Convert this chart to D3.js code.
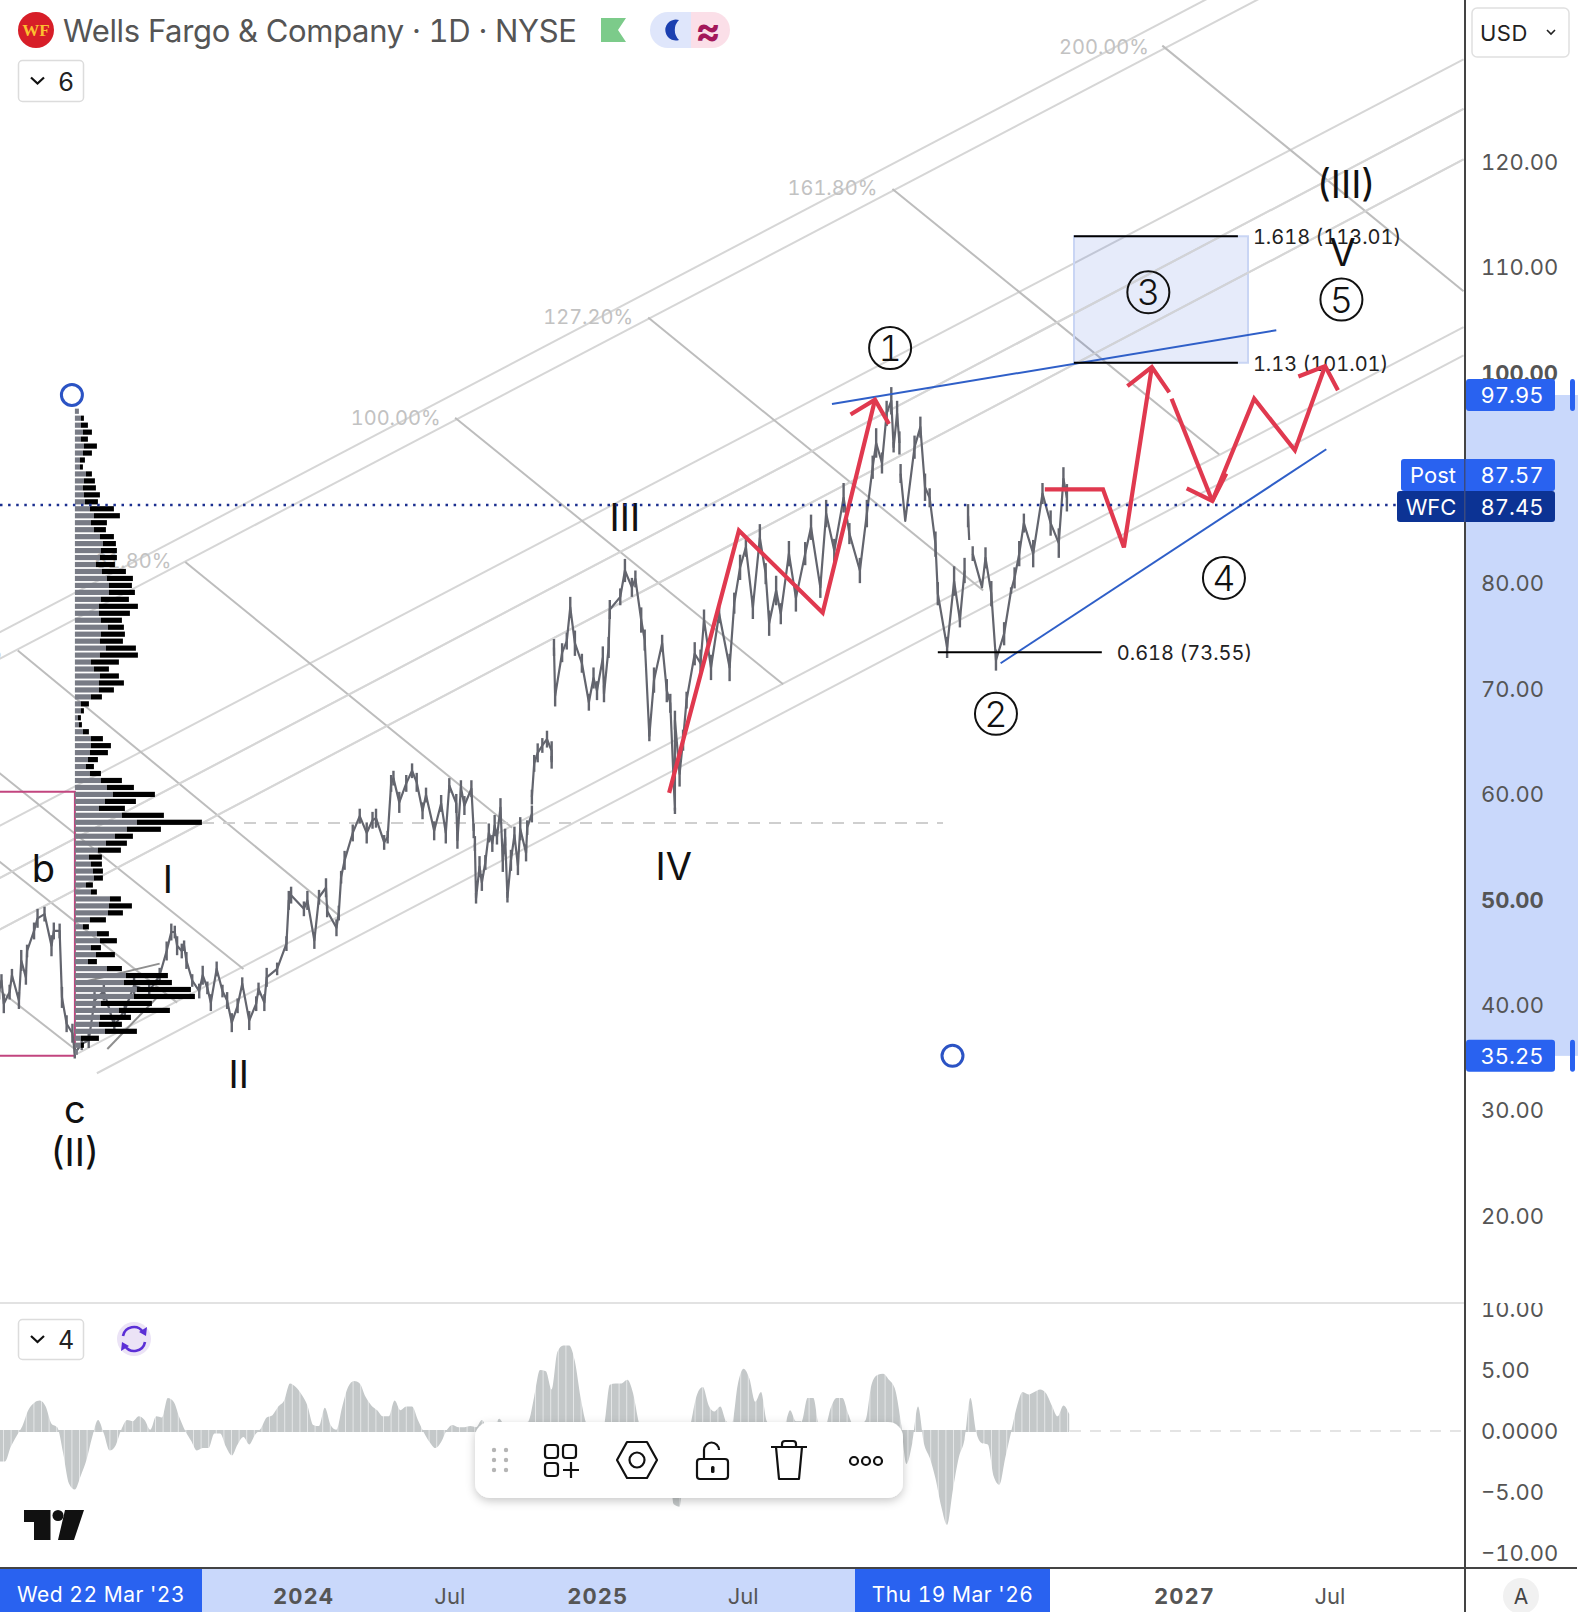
<!DOCTYPE html>
<html><head><meta charset="utf-8"><style>html,body{margin:0;padding:0;background:#fff}svg{display:block;font-family:Inter,"Noto Sans",sans-serif;font-feature-settings:"tnum"}</style>
<script src="https://cdn.jsdelivr.net/npm/d3@7/dist/d3.min.js"></script></head><body><svg id="c" width="1578" height="1612"></svg>
<script>
// ---------- DATA ----------
const priceTicks=[120,110,100,80,70,60,50,40,30,20];
const boldPriceTicks=[100,50];
const oscTicks=[10,5,0,-5,-10];
const timeTicks=[["2024-01-01","2024",1],["2024-07-01","Jul",0],["2025-01-01","2025",1],["2025-07-01","Jul",0],["2027-01-01","2027",1],["2027-07-01","Jul",0]];
const sessions=[0,2,4,9,11,17,19,23,24,30,33,39,45,47,52,54,58,63,65,71,77,82,90,99,108,116,129,138,144,148,151,153,157,159,161,166,172,175,179,182,187,192,196,200,205,209,215,221,223,228,230,239,247,249,251,262,265,271,275,281,282,290,292,294,297,304,310,316,321,324,331,334,337,339,344,350,355,359,364,367,374,380,384,387,393,394,397,400,406,408,null,409,410,413,415,418,421,424,426,428,431,433,435,437,440,443,446,448,453,454,458,null,458,460,463,467,471,475,475,null,477,478,484,488,491,495,501,507,511,514,519,520,524,525,534,538,544,547,552,555,559,563,570,574,577,581,581,585,588,591,598,603,606,612,619,628,632,637,642,648,654,659,662,668,672,679,685,693,698,706,711,718,726,731,740,746,751,754,759,763,767,769,772,774,null,775,779,787,792,796,800,805,807,815,821,826,830,null,833,834,null,837,845,848,853,857,864,870,873,877,881,889,897,904,911,915,918];
const prices=[41.4,42.4,40.2,41.3,42.9,40.5,44.3,42.7,45.2,47.1,48.3,48.7,45.7,47.1,47.1,40.8,38.3,37.4,35.5,36.4,36.7,40.5,41.4,38.1,39.6,41.9,41.4,42.9,45.2,47.0,47.0,45.7,45.2,45.7,44.3,42.4,41.4,42.9,41.7,40.3,43.5,41.4,40.5,38.4,40.0,42.1,38.6,40.2,41.6,40.3,42.7,43.5,45.9,50.0,50.5,49.2,50.0,46.2,50.3,51.2,49.0,47.4,48.8,52.2,53.8,56.4,58.0,56.4,57.6,57.8,55.5,56.0,61.1,61.6,59.3,61.1,62.3,61.2,58.5,60.0,56.6,59.2,56.4,60.9,59.2,55.7,60.7,59.0,60.6,56.6,null,55.4,50.2,53.2,51.7,53.6,56.4,55.4,57.1,56.0,58.8,53.8,56.0,50.3,53.8,56.2,53.3,56.8,54.5,56.9,58.2,null,59.8,63.0,64.0,64.7,65.3,64.2,63.1,null,74.0,69.4,73.5,74.6,77.8,74.4,72.5,68.8,71.1,69.9,73.0,69.6,74.0,77.6,78.8,81.3,79.7,80.5,76.6,74.7,65.6,70.9,74.4,69.9,68.7,58.5,67.1,62.0,65.2,69.0,73.4,72.5,76.6,72.1,77.2,72.1,78.2,81.6,83.5,77.8,84.4,81.0,76.3,79.4,77.2,82.9,78.7,82.9,85.4,79.7,86.7,83.2,88.2,84.8,81.3,86.7,91.1,93.4,91.5,96.2,97.4,93.0,96.2,93.4,null,90.5,86.0,93.0,94.9,89.2,88.2,83.8,79.1,74.0,80.3,76.6,81.3,null,86.5,84.2,null,82.9,79.7,82.5,79.1,72.8,75.3,79.4,80.6,82.9,85.8,82.9,88.6,85.8,83.9,90.0,88.2];
// day-range half-width seen around each reading, in dollars
const dayRange=[.8,.6,.9,.7,.6,.8,1,.7,.6,.8,.9,.7,1,.8,.7,1,.8,.9,.5,.6,.7,.8,.9,.6,.7,.8,.6,.7,.9,.8,.6,.9,.7,.5,.8,.6,.7,.9,.6,.8,.7,.6,.8,.9,.7,.6,.9,.7,.6,.8,.9,.6,.7,.9,.8,.7,.9,.8,.7,.9,.6,.8,.7,.6,.9,.8,.7,1,.8,.9,.7,.6,.8,.7,1,.8,.7,.9,.8,.7,.9,.8,1,.7,.9,.8,.7,.9,.8,.7,0,.7,.5,1,.8,.7,.9,.8,1,.7,.9,1.1,.8,.5,1,.8,.9,1.1,.8,.7,.8,0,.7,.8,.9,.7,.8,.9,.6,0,.8,1,.9,.8,1,1.2,.9,.8,1,.9,1.1,.8,1,.9,.8,1.1,.9,.8,1.2,1,.5,1.2,.8,1.1,.9,.3,.9,1.2,1,.8,1.1,1.3,1,1.2,.9,1.3,1,1.2,.9,1.1,1.3,1,1.2,1.4,1,1.2,1.3,1.1,1.2,1,1.3,1.1,1.4,1,1.2,1.3,1.1,1.4,1,1.2,1.3,.5,1.2,1.1,1.4,.9,0,1.1,1,1.3,.9,1.2,1.1,1,1.4,.7,1.2,.9,1.1,0,.8,.7,0,1,1.2,1,1.1,.3,1,1.2,.9,1.3,1,1.2,1.4,1.1,1.3,.5,.7];
// oscillator: one value per 5 sessions
const oscillator=[-2.5,-2.5,-1.3,-0.4,0.4,1.7,2.3,2.5,2.0,0.6,0.3,-1.8,-4.3,-4.8,-3.7,-2.4,-0.5,0.9,-0.2,-1.6,-1.2,0.1,0.9,0.8,1.2,0.9,0.1,1.2,1.1,2.7,2.4,1.1,0,-0.8,-1.6,-1.4,-1.4,-0.2,-0.2,-1.3,-2.0,-1.1,-0.5,-1.1,-0.3,0.2,1.1,1.3,2.0,2.5,3.9,3.6,3.0,2.1,0.5,0.4,1.9,0.5,0.1,2.0,3.6,4.1,3.9,2.8,2.1,1.7,1.2,1.2,2.5,1.7,2.0,2.0,0.9,-0.1,-0.9,-1.4,-0.9,0.1,0.5,0.3,0.3,0.4,0.3,0.9,0.2,0.3,1.0,0.4,0.6,0.5,0.6,0.8,2.8,5.0,4.9,3.4,6.5,7.0,7.0,5.7,2.7,0.6,0.2,0.1,0.5,3.8,3.9,3.9,4.2,3.1,0.7,-0.5,-1,-1.5,-2,-3,-6,-6.2,-1.5,0.8,3.0,3.6,2.1,1.6,2.0,0.8,0.6,3.8,5.1,4.3,2.4,3.2,0.8,0.4,0.4,0.5,1.7,0.8,0.8,2.7,2.7,0.4,0.3,1.9,2.7,2.7,1.4,0.4,0.5,0.9,3.8,4.6,4.7,4.2,3.5,0.9,-2.7,-1.0,2.0,-1.0,-2.2,-3.9,-6.2,-7.7,-4.8,-2.2,-0.7,2.7,-0.1,-1.0,-1.1,-3.7,-4.4,-2.2,-0.1,2.0,3.2,3.0,3.2,3.4,3.1,2.1,1.2,2.1,1.4];
// volume profile rows, top to bottom
const vpUp=[12,18,18,24,18,27,24,15,15,33,27,24,27,30,45,57,48,57,75,84,78,75,63,81,96,102,102,78,72,72,78,99,78,75,93,75,48,57,75,72,72,48,18,18,9,12,24,48,48,45,39,33,45,78,96,114,90,72,141,186,156,120,93,69,42,48,54,57,33,48,105,102,99,45,24,66,75,48,63,39,96,153,147,186,177,78,132,75,72,90,18,18,9];
const vpDown=[0,9,21,27,21,39,27,15,9,18,33,39,48,39,72,78,48,36,42,39,48,51,57,72,78,69,78,84,117,93,63,48,72,69,90,114,84,45,57,75,45,33,24,9,9,9,18,36,60,54,30,24,33,63,81,126,93,78,126,195,102,54,63,69,39,33,30,27,21,18,33,69,45,48,18,36,51,30,57,27,45,126,144,162,183,153,153,93,69,96,54,9,0];
const vpTopPrice=96.4, vpRowStep=0.661;
// drawings: [session0,price0,session1,price1]
const channelRising=[[0,75.4,1259,148.3],[0,72.9,1259,145.7],[0,57.05,1259,129.8],[0,52.1,1259,125.1],[0,47.2,1259,120.3],[66,35.4,1259,104.4],[84,33.6,1259,101.7]];
const channelCross=[[1000,131.1,1259,107.8],[768,117.5,1049,92.3],[558,105.3,846,79.4],[392,95.8,674,70.5],[160,82.1,441,56.9],[16,73.7,293,48.5],[0,62.1,210,43.5],[0,53.7,153,40.3],[0,41.5,66,35.8]];
const darkShort=[[66,42.1,138,44.0],[93,35.9,135,40.7]];
const fibLabels=[["200.00%",988.5,131],["161.80%",755,117.6],["127.20%",545,105.4],["100.00%",379.5,95.8],["61.80%",148,82.2],["38.20%",3,73.7]];
const redPaths=[[[576,60.2],[636,85.1],[708,77.3],[753,97.5]],[[732,96.1],[753,97.5],[765,95.2]],[[899,89.0],[949,89.0],[967,83.5],[991,100.6]],[[970,98.8],[991,100.6],[1006,98.2]],[[1008,97.6],[1043,87.9]],[[1021,89.1],[1043,87.9],[1055,90.5]],[[1043,87.9],[1079,97.6],[1114,92.7],[1140,100.7]],[[1117,99.7],[1140,100.7],[1151,98.4]]];
const blueLines=[[716,97.1,1098,104.1],[861,72.5,1141,92.8]];
const levels=[[807,948,73.55,"0.618 (73.55)"],[924,1065,101.01,"1.13 (101.01)"],[924,1065,113.01,"1.618 (113.01)"]];
const waveCircled=[["1",766,102.4],["2",857,67.7],["3",988,107.7],["4",1053,80.6],["5",1154,107.0]];
const waveText=[["III",538,86.3],["IV",580,53.2],["II",206,33.5],["I",145,52.0],["b",38,53.0],["c",65,30.2],["(II)",65,26.1],["(III)",1158,117.9],["V",1155,111.5]];
const rangeHigh=97.95, rangeLow=35.25, lastPrice=87.45, postPrice=87.57, pocPrice=57.35, boxHigh=60.3;
const rangeStart="2023-03-22", rangeEnd="2026-03-19";

// ---------- SCALES ----------
const svg=d3.select("#c");
const paneR=1465;
const parse=d3.utcParse("%Y-%m-%d");
const x=d3.scaleUtc().domain([parse("2024-01-01"),parse("2027-01-01")]).range([303,1184]);
const origin=parse("2022-12-19").getTime();
const dayMs=864e5, sessionDays=1.447;
const sx=b=>x(new Date(origin+b*sessionDays*dayMs));
const y=d3.scaleLinear().domain([120,20]).range([162.6,1216.6]);
const yo=d3.scaleLinear().domain([0,5]).range([1431,1370]);
const vol=d3.scaleLinear().domain([0,100]).range([0,33.33]);

const defs=svg.append("defs");
defs.append("clipPath").attr("id","main").append("rect").attr("width",paneR).attr("height",1303);
defs.append("clipPath").attr("id","low").append("rect").attr("y",1304).attr("width",paneR).attr("height",264);
const f=defs.append("filter").attr("id","sh").attr("x","-10%").attr("y","-20%").attr("width","120%").attr("height","150%");
f.append("feDropShadow").attr("dx",0).attr("dy",3).attr("stdDeviation",5).attr("flood-color","#000").attr("flood-opacity",0.22);

const main=svg.append("g").attr("clip-path","url(#main)");
const seg=(g,arr,stroke,w)=>g.selectAll(null).data(arr).join("line")
 .attr("x1",d=>sx(d[0])).attr("y1",d=>y(d[1])).attr("x2",d=>sx(d[2])).attr("y2",d=>y(d[3]))
 .attr("stroke",stroke).attr("stroke-width",w);

// channel
seg(main,channelRising,"#d6d6d6",2);
seg(main,channelCross,"#bdbdbd",2);
seg(main,darkShort,"#8f8f8f",2);
main.selectAll(null).data(fibLabels).join("text").attr("x",d=>sx(d[1])).attr("y",d=>y(d[2])).attr("dy","0.36em")
 .attr("text-anchor","end").attr("font-size",20).attr("fill","#c2c2c2").text(d=>d[0]);

// target box
main.append("rect").attr("x",1074).attr("y",y(113.01)).attr("width",174).attr("height",y(101.01)-y(113.01))
 .attr("fill","#3a66dc").attr("fill-opacity",0.13).attr("stroke","#c9d5f4").attr("stroke-width",2);
seg(main,channelRising.slice(3,5),"#d6d6d6",2).attr("stroke-opacity",0.8);

// POC dash & range box
main.append("line").attr("x1",202).attr("x2",943).attr("y1",y(pocPrice)).attr("y2",y(pocPrice)).attr("stroke","#cfcfcf").attr("stroke-width",2).attr("stroke-dasharray","12 9");
const xS=x(parse(rangeStart))+1, xE=x(parse(rangeEnd));
main.append("path").attr("d",`M0,${y(boxHigh)}H${xS}V${y(rangeLow)}H0`).attr("fill","none").attr("stroke","#c2457f").attr("stroke-width",2);

// price
const line=d3.line().defined((d,i)=>prices[i]!==null).x((d,i)=>sx(sessions[i])).y((d,i)=>y(prices[i]));
main.append("path").attr("d",line(sessions)).attr("fill","none").attr("stroke","#63656e").attr("stroke-width",2.2).attr("stroke-linejoin","round");
main.selectAll(null).data(sessions.map((s,i)=>[s,prices[i],dayRange[i]||0]).filter(d=>d[1]!==null)).join("line")
 .attr("x1",d=>sx(d[0])).attr("x2",d=>sx(d[0])).attr("y1",d=>y(d[1]+d[2])).attr("y2",d=>y(d[1]-d[2]))
 .attr("stroke","#63656e").attr("stroke-width",2.4);

// volume profile
const vpY=i=>y(vpTopPrice-i*vpRowStep);
const vp=main.append("g");
vp.selectAll(null).data(vpUp).join("rect").attr("x",xS).attr("y",(d,i)=>vpY(i)-2.7).attr("height",5.2).attr("width",d=>vol(d)).attr("fill","#787b85");
vp.selectAll(null).data(vpDown).join("rect").attr("x",(d,i)=>xS+vol(vpUp[i])).attr("y",(d,i)=>vpY(i)-2.7).attr("height",5.2).attr("width",d=>vol(d)).attr("fill","#000");

// last-price dotted
svg.append("line").attr("x1",0).attr("x2",1398).attr("y1",y(lastPrice)-0.8).attr("y2",y(lastPrice)-0.8).attr("stroke","#1b2f8f").attr("stroke-width",2.5).attr("stroke-dasharray","2.5 5.6");

// levels
seg(main,blueLines,"#2f5fc8",2);
main.selectAll(null).data(levels).join("line").attr("x1",d=>sx(d[0])).attr("x2",d=>sx(d[1])).attr("y1",d=>y(d[2])).attr("y2",d=>y(d[2])).attr("stroke","#000").attr("stroke-width",2);
main.selectAll(null).data(levels).join("text").attr("x",d=>sx(d[1])+15).attr("y",d=>y(d[2])+0.8).attr("dy","0.36em").attr("font-size",20).attr("fill","#222").text(d=>d[3]);

// red projection
const rl=d3.line().x(d=>sx(d[0])).y(d=>y(d[1]));
main.selectAll(null).data(redPaths).join("path").attr("d",rl).attr("fill","none").attr("stroke","#e0394f").attr("stroke-width",4.2).attr("stroke-linejoin","miter");

// wave labels
const wc=main.selectAll(null).data(waveCircled).join("g").attr("transform",d=>`translate(${sx(d[1])},${y(d[2])})`);
wc.append("circle").attr("r",21).attr("fill","none").attr("stroke","#111").attr("stroke-width",2);
wc.append("text").attr("text-anchor","middle").attr("dy","0.36em").attr("font-size",36).attr("font-weight",300).attr("fill","#111").text(d=>d[0]);
main.selectAll(null).data(waveText).join("text").attr("x",d=>sx(d[1])).attr("y",d=>y(d[2])).attr("text-anchor","middle").attr("dy","0.36em").attr("font-size",38).attr("fill","#111").style("font-feature-settings","normal").text(d=>d[0]);

// anchors
svg.selectAll(null).data([[xS-3,rangeHigh],[xE,rangeLow]]).join("circle").attr("cx",d=>d[0]).attr("cy",d=>y(d[1])).attr("r",10.5).attr("fill","#fff").attr("stroke","#2b53c4").attr("stroke-width",3);

// oscillator
const low=svg.append("g").attr("clip-path","url(#low)");
low.append("line").attr("x1",1070).attr("x2",paneR).attr("y1",yo(0)).attr("y2",yo(0)).attr("stroke","#e4e4e4").attr("stroke-width",2).attr("stroke-dasharray","11 9");
const oscArea=d3.area().curve(d3.curveMonotoneX).x((d,i)=>sx(i*5)).y0(yo(0)).y1(d=>yo(d));
low.append("path").attr("d",oscArea(oscillator)).attr("fill","#c4c8c9");
low.append("rect").attr("x",0).attr("y",yo(0)-1).attr("width",sx((oscillator.length-1)*5)).attr("height",2).attr("fill","#c4c8c9");
low.selectAll(null).data(d3.range(3,1072,7.6)).join("rect").attr("x",d=>d).attr("y",1310).attr("width",1).attr("height",240).attr("fill","#fff").attr("fill-opacity",0.55);

// separators and axes background
svg.append("rect").attr("x",0).attr("y",1302).attr("width",paneR).attr("height",2).attr("fill","#e2e2e2");
svg.append("rect").attr("x",paneR).attr("y",y(rangeHigh)).attr("width",1578-paneR).attr("height",y(rangeLow)-y(rangeHigh)).attr("fill","#c9d8fb");
svg.append("rect").attr("x",xS).attr("y",1568).attr("width",xE-xS).attr("height",44).attr("fill","#c9d8fb");

// price axis
const axStyle=(g,size)=>{g.select(".domain").remove();g.selectAll("line").remove();g.selectAll("text").attr("font-family","Inter,sans-serif").attr("font-size",size).attr("fill","#555");};
const pa=svg.append("g").attr("transform","translate(1473,-0.4)").call(d3.axisRight(y).tickValues(priceTicks).tickFormat(d3.format(".2f")).tickSize(0).tickPadding(8)).call(axStyle,22);
pa.selectAll("text").filter(d=>boldPriceTicks.includes(d)).attr("font-weight",700);
const oa=svg.append("g").attr("transform","translate(1473,0)").call(d3.axisRight(yo).tickValues(oscTicks).tickFormat(d=>d===0?"0.0000":d3.format(".2f")(d)).tickSize(0).tickPadding(8)).call(axStyle,22);
// the top tick of the lower pane is cut off by the pane edge
svg.append("rect").attr("x",paneR).attr("y",1290).attr("width",113).attr("height",13).attr("fill","#fff");

// time axis
const ta=svg.append("g").attr("transform","translate(0,1568)").call(d3.axisBottom(x).tickValues(timeTicks.map(d=>parse(d[0]))).tickFormat((d,i)=>timeTicks[i][1]).tickSize(0).tickPadding(20)).call(axStyle,22);
ta.selectAll("text").attr("font-weight",(d,i)=>timeTicks[i][2]?700:400).attr("letter-spacing",(d,i)=>timeTicks[i][2]?1:0);

// pane frame
svg.append("rect").attr("x",0).attr("y",1567).attr("width",1577).attr("height",2).attr("fill","#444");
svg.append("rect").attr("x",paneR-1).attr("y",0).attr("width",2).attr("height",1612).attr("fill","#444");

// price labels
const lab=(x0,x1,y0,y1,fill,txt,tx)=>{svg.append("rect").attr("x",x0).attr("y",y0).attr("width",x1-x0).attr("height",y1-y0).attr("rx",3).attr("fill",fill);
 if(txt)svg.append("text").attr("x",tx).attr("y",(y0+y1)/2).attr("dy","0.36em").attr("text-anchor","middle").attr("font-size",22).attr("fill","#fff").text(txt);};
const blue="#2962f0";
lab(1466,1555,y(rangeHigh)-16,y(rangeHigh)+16,blue,d3.format(".2f")(rangeHigh),1512);
lab(1570,1575,y(rangeHigh)-16,y(rangeHigh)+16,blue);
lab(1466,1555,y(rangeLow)-16,y(rangeLow)+16,blue,d3.format(".2f")(rangeLow),1512);
lab(1570,1575,y(rangeLow)-16,y(rangeLow)+16,blue);
lab(1401,1555,459,491,blue,null);
const wt=(tx,ty,t)=>svg.append("text").attr("x",tx).attr("y",ty).attr("dy","0.36em").attr("text-anchor","middle").attr("font-size",22).attr("fill","#fff").text(t);
wt(1433,475.5,"Post");wt(1512,475.5,d3.format(".2f")(postPrice));
lab(1397,1555,491,522,"#0c3394",null);
wt(1431,507,"WFC");wt(1512,507,d3.format(".2f")(lastPrice));
svg.append("rect").attr("x",paneR-1).attr("y",459).attr("width",1.5).attr("height",63).attr("fill","#3a4a80");

// date labels
const dlab=(x0,x1,t)=>{svg.append("rect").attr("x",x0).attr("y",1569).attr("width",x1-x0).attr("height",43).attr("fill",blue);
 svg.append("text").attr("x",(x0+x1)/2).attr("y",1596).attr("dy","0.3em").attr("text-anchor","middle").attr("font-size",21).attr("letter-spacing",0.5).attr("fill","#fff").text(t);};
dlab(0,202,"Wed 22 Mar '23");dlab(855,1050,"Thu 19 Mar '26");

// header
svg.append("circle").attr("cx",36).attr("cy",30).attr("r",18).attr("fill","#d71e28");
svg.append("text").attr("x",36).attr("y",30).attr("dy","0.36em").attr("text-anchor","middle").attr("font-family","Liberation Serif").attr("font-weight",700).attr("font-size",17).attr("fill","#fcc030").text("WF");
svg.append("text").attr("x",63).attr("y",31).attr("dy","0.36em").attr("font-size",31).attr("fill","#555").attr("textLength",514).text("Wells Fargo & Company · 1D · NYSE");
svg.append("path").attr("d","M601,18H626L618,30L626,42H601Z").attr("fill","#7ccb8a");
svg.append("path").attr("d","M668,12H691V48H668A18,18 0 0 1 668,12Z").attr("fill","#dfe6fb");
svg.append("path").attr("d","M691,12H712A18,18 0 0 1 712,48H691Z").attr("fill","#fbdfe8");
svg.append("path").attr("d","M679,20A10.5,10.5 0 1 0 679,40A14,14 0 0 1 679,20Z").attr("fill","#1b3fb0");
svg.append("text").attr("x",708).attr("y",30).attr("dy","0.36em").attr("text-anchor","middle").attr("font-size",38).attr("font-weight",700).attr("fill","#a3175a").text("≈");

const btn=(x0,y0,w,h,t)=>{svg.append("rect").attr("x",x0+.5).attr("y",y0+.5).attr("width",w).attr("height",h).attr("rx",4).attr("fill","#fff").attr("stroke","#dcdcdc").attr("stroke-width",1.5);
 const cy=y0+h/2;
 svg.append("path").attr("d",`M${x0+13},${cy-3}l6.5,6l6.5,-6`).attr("fill","none").attr("stroke","#111").attr("stroke-width",2.2);
 svg.append("text").attr("x",x0+40).attr("y",cy+1).attr("dy","0.36em").attr("font-size",25).attr("fill","#222").text(t);};
btn(18,60,65,41,"6");btn(18,1319,65,40,"4");
// USD
svg.append("rect").attr("x",1472).attr("y",8).attr("width",97).attr("height",49).attr("rx",5).attr("fill","#fff").attr("stroke","#e0e0e0").attr("stroke-width",1.5);
svg.append("text").attr("x",1480).attr("y",33).attr("dy","0.36em").attr("font-size",22).attr("letter-spacing",0.5).attr("fill","#222").text("USD");
svg.append("path").attr("d","M1547,30l4,4l4,-4").attr("fill","none").attr("stroke","#222").attr("stroke-width",1.6);

// sync icon
svg.append("circle").attr("cx",134).attr("cy",1339).attr("r",17).attr("fill","#ebe3f6");
const si=svg.append("g").attr("fill","none").attr("stroke","#5b2fd6").attr("stroke-width",2.6);
si.append("path").attr("d","M123,1336A11,11 0 0 1 143,1332");si.append("path").attr("d","M145,1342A11,11 0 0 1 125,1346");
svg.append("path").attr("d","M147,1327L146,1336L139,1332ZM121,1351L122,1342L129,1346Z").attr("fill","#5b2fd6");

// TV logo
svg.append("path").attr("d","M24,1510H50.5V1540H34V1522H24Z M65,1510H84L74,1540H58Z").attr("fill","#111");
svg.append("circle").attr("cx",58).attr("cy",1515.5).attr("r",5.5).attr("fill","#111");

// toolbar
svg.append("rect").attr("x",475).attr("y",1422).attr("width",428).attr("height",76).attr("rx",15).attr("fill","#fff").attr("filter","url(#sh)");
const dots=[[494,1450],[506,1450],[494,1460],[506,1460],[494,1470],[506,1470]];
svg.selectAll(null).data(dots).join("circle").attr("cx",d=>d[0]).attr("cy",d=>d[1]).attr("r",2.2).attr("fill","#b5b5b5");
const ic=svg.append("g").attr("fill","none").attr("stroke","#111").attr("stroke-width",2.2).attr("stroke-linejoin","round");
[[545,1445],[563,1445],[545,1463]].forEach(p=>ic.append("rect").attr("x",p[0]).attr("y",p[1]).attr("width",13).attr("height",13).attr("rx",3));
ic.append("path").attr("d","M563,1470H579M571,1462V1478");
ic.append("path").attr("d","M617,1460L627,1442H647L657,1460L647,1478H627Z");ic.append("circle").attr("cx",637).attr("cy",1460).attr("r",7.5);
ic.append("rect").attr("x",697).attr("y",1459).attr("width",31).attr("height",20).attr("rx",3);
ic.append("path").attr("d","M704,1459V1450A7.5,7.5 0 0 1 719,1450");
svg.append("rect").attr("x",711).attr("y",1466).attr("width",3.5).attr("height",7).attr("rx",1.5).attr("fill","#111");
ic.append("path").attr("d","M771,1447H807M776,1447L779,1479H799L802,1447M782,1447V1444Q782,1441 785,1441H793Q796,1441 796,1444V1447");
[854,866,878].forEach(cx=>ic.append("circle").attr("cx",cx).attr("cy",1461).attr("r",4));

// A button
svg.append("circle").attr("cx",1521).attr("cy",1596).attr("r",18).attr("fill","#f1f1f1");
svg.append("text").attr("x",1521).attr("y",1596).attr("dy","0.36em").attr("text-anchor","middle").attr("font-size",21).attr("fill","#444").text("A");
</script></body></html>
